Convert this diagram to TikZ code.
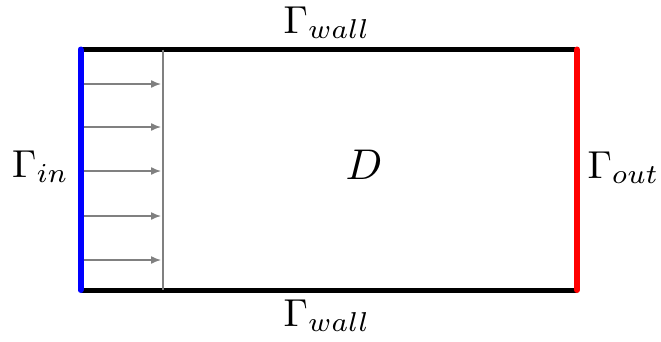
\documentclass[tikz,border=0pt]{standalone}
\usetikzlibrary{arrows.meta}
\begin{document}
\begin{tikzpicture}[x=1pt,y=-1pt,
  wall/.style={line width=5pt,black},
  inlet/.style={line width=6pt,blue,line cap=round},
  outlet/.style={line width=6pt,red,line cap=round},
  front/.style={line width=2pt,gray},
  flow/.style={line width=1.4pt,gray,-{Latex[length=10pt,width=8pt]}},
  lbl/.style={inner sep=0pt,scale=3.9}]
\useasboundingbox (0,0) rectangle (661,341);
\coordinate (TL) at (80.5,49.5);
\coordinate (TR) at (577,49.5);
\coordinate (BL) at (80.5,290);
\coordinate (BR) at (577,290);
\coordinate (FT) at (162.5,49.5);
\coordinate (FB) at (162.5,290);
\draw[wall] (TL) -- (TR);
\draw[wall] (BL) -- (BR);
\draw[front] (FT) -- (FB);
\draw[inlet] (TL) -- (BL);
\draw[outlet] (TR) -- (BR);
\foreach \i/\y in {1/84,2/127,3/171,4/216,5/260}{
  \coordinate (a\i) at (84,\y);
  \coordinate (b\i) at (161,\y);
  \draw[flow] (a\i) -- (b\i);
}
\node[lbl,anchor=base] (gtop) at (327,33) {$\Gamma_{wall}$};
\node[lbl,anchor=base] (gbot) at (327,326) {$\Gamma_{wall}$};
\node[lbl,anchor=base] (gin) at (40.5,177) {$\Gamma_{in}$};
\node[lbl,anchor=base] (gout) at (623.5,178) {$\Gamma_{out}$};
\node[inner sep=0pt,scale=4.3,anchor=base] (D) at (364,179) {$D$};
\end{tikzpicture}
\end{document}
